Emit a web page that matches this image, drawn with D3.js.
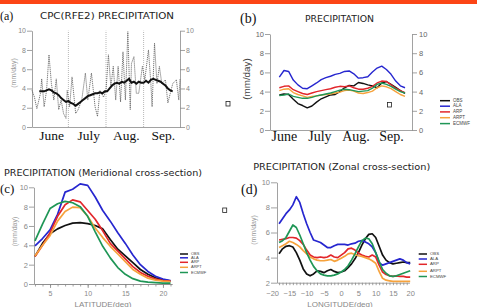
<!DOCTYPE html>
<html>
<head>
<meta charset="utf-8">
<script src="https://cdn.jsdelivr.net/npm/d3@7"></script>
<style>
  body { margin: 0; background: #fff; }
  svg { display: block; }
</style>
</head>
<body>
<svg id="container" width="477" height="307"></svg>
<script>
const months = ["June", "July", "Aug.", "Sep."];
const monthMid = [15, 45.5, 76.5, 107];
const monthEdge = [30, 61, 92];

// panel (a): daily CPC RFE2 (dotted) and its running mean
const rfeDays = [0,2,4,7,8,10,12,14,16,18,20,22,24,26,28,29,31,33,36,38,41,44,46,49,52,54,56,59,61,63,65,67,69,71,73,75,77,79,81,82,84,86,88,91,93,96,98,99,101,103,105,107,110,112,114,116,119,121,122];
const rfeDaily = [3.8,3.1,1.9,3.5,5.0,2.1,3.8,7.5,4.5,2.8,5.0,1.8,2.8,1.4,0.9,3.8,2.1,5.2,1.4,1.8,2.8,5.6,2.8,5.6,2.1,1.1,3.8,3.1,3.8,7.5,4.2,6.3,2.8,6.3,2.6,7.8,2.8,9.9,1.8,6.6,7.3,3.5,3.5,6.3,4.9,8.0,4.5,2.1,8.7,4.5,6.3,4.5,4.9,2.5,3.5,4.5,4.9,2.8,5.0];
const runDays = [6,8,10,12,14,16,18,20,22,24,26,28,30,32,34,36,38,40,42,44,46,48,50,52,54,56,58,60,62,64,66,68,70,72,74,76,78,80,82,84,86,88,90,92,94,96,98,100,102,104,106,108,110,112,114,116];
const runObs = [3.7,3.7,3.7,3.8,3.9,3.8,3.6,3.5,3.3,3.0,2.8,2.6,2.7,2.5,2.4,2.2,2.4,2.6,2.8,3.0,3.2,3.3,3.4,3.5,3.5,3.6,3.5,3.7,3.7,4.0,4.3,4.5,4.6,4.5,4.7,4.6,4.8,5.0,4.6,4.7,4.5,4.7,4.6,4.6,4.8,4.6,4.9,5.0,4.9,4.8,4.7,4.5,4.3,4.0,3.8,3.7];

const models = ["OBS", "ALA", "ARP", "ARPT", "ECMWF"];
const modelColors = ["#111111", "#2626cf", "#e2262b", "#f6a23c", "#1f9656"];

// panel (b): seasonal evolution
const seasonDays = [8,12,16,20,24,28,32,36,40,44,48,52,56,60,64,68,72,76,80,84,88,92,96,100,104,108,112,116];
const seasonObs = [3.65,3.75,3.7,3.2,2.75,2.55,2.3,2.5,2.9,3.25,3.45,3.65,3.7,4.0,4.4,4.65,4.6,4.95,4.85,4.7,4.6,4.4,4.9,5.05,4.75,4.45,4.1,3.8];
const seasonAla = [5.5,6.2,6.1,5.2,4.7,4.35,4.3,4.6,4.9,5.25,5.45,5.6,5.8,5.9,6.1,6.15,5.85,5.4,5.45,5.55,6.05,6.45,6.65,6.3,5.8,5.1,4.6,4.4];
const seasonArp = [4.4,4.55,4.6,4.2,4.0,3.8,3.7,3.85,4.0,4.1,4.2,4.3,4.45,4.55,4.5,4.6,4.4,4.25,4.25,4.35,4.55,4.9,5.1,5.05,4.7,4.35,4.1,3.9];
const seasonArpt = [4.1,4.25,4.3,3.9,3.7,3.55,3.4,3.5,3.55,3.65,3.7,3.75,3.85,3.95,4.1,4.15,4.05,3.85,3.8,3.9,4.05,4.4,4.6,4.5,4.3,4.0,3.7,3.5];
const seasonEcmwf = [3.6,3.65,3.75,3.5,3.4,3.3,3.3,3.4,3.55,3.65,3.75,3.85,4.0,4.15,4.25,4.2,4.1,4.0,4.05,4.1,4.35,4.75,4.9,4.75,4.55,4.25,4.0,3.85];

// panel (c): meridional cross-section
const lats = [3,4,5,6,7,8,9,10,11,12,13,14,15,16,17,18,19,20,21];
const merObs = [2.85,4.2,5.2,5.7,6.05,6.3,6.35,6.25,6.05,5.7,4.6,3.6,2.9,2.2,1.5,1.0,0.65,0.45,0.3];
const merAla = [3.95,4.7,5.6,7.2,9.5,9.8,10.35,10.2,9.0,7.6,6.5,5.3,4.2,3.0,2.0,1.3,0.8,0.5,0.35];
const merArp = [2.85,4.0,5.3,7.0,8.2,8.7,8.5,7.6,6.7,5.5,4.2,3.4,2.6,1.8,1.2,0.8,0.5,0.35,0.3];
const merArpt = [2.9,4.0,5.0,6.5,7.5,7.95,7.9,7.0,5.8,4.8,3.9,3.1,2.3,1.5,1.0,0.6,0.4,0.3,0.25];
const merEcmwf = [4.45,6.2,7.8,8.3,8.55,8.4,8.0,7.0,5.4,3.9,2.7,1.7,1.0,0.55,0.3,0.2,0.15,0.1,0.1];

// panel (d): zonal cross-section
const lons = [-18,-17,-16,-15,-14,-13,-12,-11,-10,-9,-8,-7,-6,-5,-4,-3,-2,-1,0,1,2,3,4,5,6,7,8,9,10,11,12,13,14,15,16,17,18,19,20];
const zonObs = [4.3,4.7,4.9,4.95,4.85,4.4,3.8,3.1,2.7,2.55,2.7,2.95,2.9,2.8,2.95,3.05,2.9,2.8,2.85,2.95,3.2,3.5,3.9,4.4,5.0,5.5,5.85,5.9,5.6,4.9,4.2,3.8,3.6,3.5,3.55,3.6,3.65,3.6,3.6];
const zonAla = [6.7,7.1,7.5,7.8,8.2,8.85,8.4,7.5,6.7,6.0,5.4,5.3,5.2,5.0,4.8,4.8,4.95,5.05,5.05,5.05,5.0,5.1,5.15,5.3,5.35,5.25,5.1,4.85,4.4,3.6,3.4,3.5,3.6,3.7,3.8,3.9,3.8,3.6,3.5];
const zonArp = [5.4,5.45,5.5,5.6,5.6,5.55,5.35,5.05,4.6,4.2,4.05,4.0,4.05,4.0,4.05,4.2,4.05,4.0,4.2,4.4,4.7,4.75,4.6,4.35,4.2,4.1,4.05,4.2,4.05,3.4,2.85,2.65,2.55,2.5,2.55,2.5,2.5,2.45,2.45];
const zonArpt = [4.8,4.95,5.1,5.3,5.2,5.05,4.85,4.55,4.3,4.05,3.9,3.8,3.75,3.75,3.8,3.85,3.7,3.8,3.95,4.1,4.3,4.35,4.25,4.15,4.1,4.0,3.9,3.75,3.55,2.9,2.35,2.2,2.15,2.1,2.1,2.1,2.1,2.1,2.1];
const zonEcmwf = [5.2,5.35,5.6,6.1,6.6,6.4,5.8,5.1,4.4,3.8,3.3,2.95,2.7,2.6,2.55,2.55,2.6,2.7,2.85,3.05,3.35,3.8,4.3,4.85,5.35,5.55,5.5,5.1,4.4,3.7,3.05,2.75,2.55,2.5,2.55,2.65,2.75,2.85,2.95];

const svg = d3.select('#container');
const tickFont = 'Liberation Sans, Arial, sans-serif';
const titleFont = 'DejaVu Sans, sans-serif';
const serif = 'Liberation Serif, Times New Roman, serif';

svg.append('rect').attr('x', 0).attr('y', 0).attr('width', 477).attr('height', 4).attr('fill', '#fc4516');

function styleAxis(g, size, color) {
    g.attr('font-family', null).attr('font-size', null);
    g.selectAll('text').attr('font-size', size).attr('font-family', tickFont).attr('fill', color);
    g.selectAll('line, path').attr('stroke', '#8a8a8a').attr('stroke-width', 0.8);
}

function drawLines(g, x, y, xs, series, width) {
    const line = d3.line().x((d, i) => x(xs[i])).y(d => y(d));
    g.selectAll(null)
        .data(series)
        .enter()
        .append('path')
        .attr('fill', 'none')
        .attr('stroke', (d, i) => modelColors[i])
        .attr('stroke-width', width)
        .attr('stroke-linejoin', 'round')
        .attr('d', d => line(d));
}

function drawLegend(g, x0, x1, ys, size) {
    const rows = g.selectAll(null).data(models).enter().append('g');
    rows.append('line')
        .attr('x1', x0).attr('x2', x1)
        .attr('y1', (d, i) => ys[i]).attr('y2', (d, i) => ys[i])
        .attr('stroke', (d, i) => modelColors[i])
        .attr('stroke-width', 1.5);
    rows.append('text')
        .attr('x', x1 + 3)
        .attr('y', (d, i) => ys[i])
        .attr('dominant-baseline', 'middle')
        .attr('font-family', tickFont)
        .attr('font-size', size)
        .attr('fill', '#444')
        .text(d => d);
}

function label(text, x, y, opts) {
    const t = svg.append('text')
        .attr('x', x).attr('y', y)
        .attr('font-family', opts.font || titleFont)
        .attr('font-size', opts.size)
        .attr('fill', opts.fill || '#222')
        .attr('text-anchor', opts.anchor || 'start')
        .text(text);
    if (opts.len) t.attr('textLength', opts.len).attr('lengthAdjust', 'spacingAndGlyphs');
    if (opts.rotate) t.attr('transform', `rotate(-90,${x},${y})`);
    return t;
}

function square(x, y) {
    svg.append('rect').attr('x', x).attr('y', y).attr('width', 4).attr('height', 4.5)
        .attr('fill', 'none').attr('stroke', '#222').attr('stroke-width', 0.8);
}

// ---------- (a)
const xA = d3.scaleLinear().domain([0, 122]).range([32, 180]);
const yA = d3.scaleLinear().domain([0, 10]).range([127, 30.7]);
const gA = svg.append('g');

gA.selectAll(null).data(monthEdge).enter().append('line')
    .attr('x1', d => xA(d)).attr('x2', d => xA(d))
    .attr('y1', yA(0)).attr('y2', yA(10))
    .attr('stroke', '#999').attr('stroke-width', 0.7).attr('stroke-dasharray', '1,1');

gA.append('g').attr('transform', `translate(0,${yA(0)})`)
    .call(d3.axisBottom(xA).tickValues([]).tickSizeOuter(0)).call(styleAxis, 7, '#888');
gA.append('g').attr('transform', `translate(${xA(0)},0)`)
    .call(d3.axisLeft(yA).tickValues([0, 2, 4, 6, 8, 10]).tickSize(5).tickSizeOuter(0).tickPadding(1))
    .call(styleAxis, 7, '#888');
gA.append('g').attr('transform', `translate(${xA(122)},0)`)
    .call(d3.axisRight(yA).tickValues([0, 2, 4, 6, 8, 10]).tickSize(5).tickSizeOuter(0).tickPadding(1))
    .call(styleAxis, 7, '#888');

gA.append('path')
    .attr('fill', 'none').attr('stroke', '#555').attr('stroke-width', 0.8).attr('stroke-dasharray', '1.2,0.8')
    .attr('d', d3.line().x((d, i) => xA(rfeDays[i])).y(d => yA(d))(rfeDaily));
gA.append('path')
    .attr('fill', 'none').attr('stroke', '#111').attr('stroke-width', 2)
    .attr('d', d3.line().x((d, i) => xA(runDays[i])).y(d => yA(d))(runObs));

gA.selectAll(null).data(months).enter().append('text')
    .attr('x', (d, i) => xA(monthMid[i]) + 1.5).attr('y', 140)
    .attr('text-anchor', 'middle').attr('font-family', serif).attr('font-size', 13.5).attr('fill', '#111')
    .text(d => d);

label('(a)', 0, 19.5, { font: serif, size: 12, fill: '#111' });
label('CPC(RFE2)  PRECIPITATION', 107, 19.3, { size: 9.5, anchor: 'middle', len: 134 });
label('(mm/day)', 15.5, 73, { font: tickFont, size: 7, fill: '#999', anchor: 'middle', rotate: true });
square(226, 101.5);

// ---------- (b)
const xB = d3.scaleLinear().domain([0, 122]).range([270, 412]);
const yB = d3.scaleLinear().domain([0, 10]).range([130, 34]);
const gB = svg.append('g');

gB.append('g').attr('transform', `translate(0,${yB(0)})`)
    .call(d3.axisBottom(xB).tickValues([]).tickSizeOuter(0)).call(styleAxis, 7, '#777');
gB.append('g').attr('transform', `translate(${xB(0)},0)`)
    .call(d3.axisLeft(yB).tickValues([0, 2, 4, 6, 8, 10]).tickSize(5).tickSizeOuter(0).tickPadding(1))
    .call(styleAxis, 7.5, '#666');
gB.append('g').attr('transform', `translate(${xB(122)},0)`)
    .call(d3.axisRight(yB).tickValues([0, 2, 4, 6, 8, 10]).tickSize(5).tickSizeOuter(0).tickPadding(2))
    .call(styleAxis, 7.5, '#666');

drawLines(gB, xB, yB, seasonDays, [seasonObs, seasonAla, seasonArp, seasonArpt, seasonEcmwf], 1.4);

gB.selectAll(null).data(months).enter().append('text')
    .attr('x', (d, i) => xB(monthMid[i]) - 3).attr('y', 141)
    .attr('text-anchor', 'middle').attr('font-family', serif).attr('font-size', 14).attr('fill', '#111')
    .text(d => d);

drawLegend(gB, 440, 450, [100.7, 106.2, 111.9, 117.7, 123.6], 4.5);
label('(b)', 240, 23, { font: serif, size: 14, fill: '#111' });
label('PRECIPITATION', 339.5, 22, { size: 9.5, anchor: 'middle', len: 69 });
label('(mm/day)', 249.5, 79, { font: tickFont, size: 9.8, fill: '#444', anchor: 'middle', rotate: true });
square(387.5, 102.5);

// ---------- (c)
const xC = d3.scaleLinear().domain([2.87, 21.2]).range([34, 172]);
const yC = d3.scaleLinear().domain([0, 10]).range([284, 187.3]);
const gC = svg.append('g');

gC.append('g').attr('transform', `translate(0,${yC(0)})`)
    .call(d3.axisBottom(xC).tickValues(d3.range(3, 22)).tickSize(2.5).tickSizeOuter(0).tickFormat(''))
    .call(styleAxis, 7, '#888');
gC.append('g').attr('transform', `translate(0,${yC(0)})`)
    .call(d3.axisBottom(xC).tickValues([5, 10, 15, 20]).tickSize(4).tickSizeOuter(0).tickPadding(3.5))
    .call(styleAxis, 7, '#888');
gC.append('g').attr('transform', `translate(${xC(2.87)},0)`)
    .call(d3.axisLeft(yC).tickValues([0, 2, 4, 6, 8, 10]).tickSize(5).tickSizeOuter(0).tickPadding(1))
    .call(styleAxis, 7.5, '#888');

drawLines(gC, xC, yC, lats, [merObs, merAla, merArp, merArpt, merEcmwf], 1.7);
drawLegend(gC, 180, 188, [254, 257.8, 262.3, 267.3, 272.5], 4);

label('(c)', 0, 193, { font: serif, size: 13, fill: '#111' });
label('PRECIPITATION (Meridional cross-section)', 103, 175.5, { size: 9.5, anchor: 'middle', len: 198 });
label('LATITUDE(deg)', 103, 306.5, { font: tickFont, size: 8, fill: '#888', anchor: 'middle' });
label('(mm/day)', 16.5, 231.5, { font: tickFont, size: 7, fill: '#999', anchor: 'middle', rotate: true });
square(222.7, 208);

// ---------- (d)
const xD = d3.scaleLinear().domain([-18.6, 19.8]).range([277, 409.5]);
const yD = d3.scaleLinear().domain([2, 10]).range([282.7, 182.3]);
const gD = svg.append('g');

gD.append('g').attr('transform', `translate(0,${yD(2)})`)
    .call(d3.axisBottom(xD).tickValues(d3.range(-18, 20)).tickSize(2.5).tickSizeOuter(0).tickFormat(''))
    .call(styleAxis, 7, '#888');
gD.append('g').attr('transform', `translate(0,${yD(2)})`)
    .call(d3.axisBottom(xD).tickValues([-20, -15, -10, -5, 0, 5, 10, 15, 20]).tickSize(0).tickPadding(8))
    .call(g => g.select('.domain').remove())
    .call(styleAxis, 7.5, '#888');
gD.append('g').attr('transform', `translate(${xD(-18.6)},0)`)
    .call(d3.axisLeft(yD).tickValues([2, 4, 6, 8, 10]).tickSize(6).tickSizeOuter(0).tickPadding(1))
    .call(styleAxis, 7.5, '#888');

drawLines(gD, xD, yD, lons, [zonObs, zonAla, zonArp, zonArpt, zonEcmwf], 1.7);
drawLegend(gD, 418.7, 427, [254, 259, 264.3, 271.3, 276.5], 4.3);

label('(d)', 241, 194, { font: serif, size: 14, fill: '#111' });
label('PRECIPITATION (Zonal cross-section)', 341.7, 170, { size: 9.5, anchor: 'middle', len: 177 });
label('LONGITUDE(deg)', 340, 306.5, { font: tickFont, size: 8, fill: '#888', anchor: 'middle' });
label('(mm/day)', 255.5, 230, { font: tickFont, size: 7, fill: '#999', anchor: 'middle', rotate: true });
</script>
</body>
</html>
